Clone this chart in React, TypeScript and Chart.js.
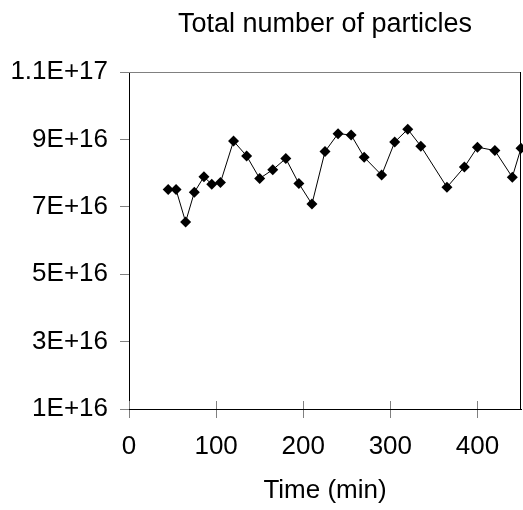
import React, { useEffect, useRef } from "react";
import { Chart, registerables } from "chart.js";

Chart.register(...registerables);

const titleText = "Total number of particles";
const xTitle = "Time (min)";
const timesMin = [45, 54, 65, 75, 86, 95, 105, 120, 135, 150, 165, 180, 195, 210, 225, 240, 255, 270, 290, 305, 320, 335, 365, 385, 400, 420, 440, 450];
const particles = [7.51e16, 7.51e16, 6.55e16, 7.43e16, 7.89e16, 7.67e16, 7.72e16, 8.95e16, 8.51e16, 7.84e16, 8.10e16, 8.43e16, 7.69e16, 7.08e16, 8.64e16, 9.17e16, 9.13e16, 8.47e16, 7.94e16, 8.92e16, 9.30e16, 8.80e16, 7.58e16, 8.18e16, 8.77e16, 8.67e16, 7.88e16, 8.74e16];
const xTicks = [0, 100, 200, 300, 400];
const yTicks = [1e16, 3e16, 5e16, 7e16, 9e16, 1.1e17];

const FONT = "'Liberation Sans', Arial, sans-serif";

function fmtExp(v: number): string {
  const s = Number(v.toPrecision(3)).toExponential();
  return s.toUpperCase();
}

const framePlugin = {
  id: "frame",
  afterDraw(chart: any) {
    const { ctx, chartArea } = chart;
    const { top, bottom, left, right } = chartArea;
    const xs = chart.scales.x;
    ctx.save();
    ctx.lineWidth = 1;
    ctx.strokeStyle = "#808080";
    ctx.beginPath();
    ctx.moveTo(left, Math.round(top) + 0.5);
    ctx.lineTo(right, Math.round(top) + 0.5);
    ctx.stroke();
    for (const t of xTicks) {
      const px = Math.round(xs.getPixelForValue(t)) + 0.5;
      ctx.beginPath();
      ctx.moveTo(px, bottom - 8);
      ctx.lineTo(px, bottom);
      ctx.stroke();
    }
    ctx.strokeStyle = "#000000";
    ctx.beginPath();
    ctx.moveTo(Math.round(right) - 0.5, top);
    ctx.lineTo(Math.round(right) - 0.5, bottom);
    ctx.stroke();
    ctx.restore();
  },
};

export default function App() {
  const ref = useRef<HTMLCanvasElement | null>(null);
  useEffect(() => {
    if (!ref.current) return;
    const chart = new Chart(ref.current, {
      type: "scatter",
      data: {
        datasets: [
          {
            data: timesMin.map((t, i) => ({ x: t, y: particles[i] })),
            showLine: true,
            borderColor: "#000000",
            borderWidth: 1,
            backgroundColor: "#000000",
            pointStyle: "rectRot",
            pointRadius: 5.5,
            pointBorderWidth: 0,
            pointBackgroundColor: "#000000",
            clip: false,
          } as any,
        ],
      },
      options: {
        animation: false,
        responsive: false,
        layout: { autoPadding: false, padding: { left: 0, right: 2, top: 0, bottom: 0 } },
        plugins: {
          legend: { display: false },
          tooltip: { enabled: false },
          title: {
            display: true,
            text: titleText,
            color: "#000000",
            fullSize: false,
            font: { family: FONT, size: 27, weight: "normal" },
            padding: { top: 8, bottom: 31.6 },
          },
        },
        scales: {
          x: {
            type: "linear",
            min: 0,
            max: 450,
            afterBuildTicks: (s: any) => {
              s.ticks = xTicks.map((v) => ({ value: v }));
            },
            afterFit: (s: any) => {
              s.height = 101;
              s.paddingLeft = 0;
              s.paddingRight = 0;
            },
            ticks: {
              color: "#000000",
              font: { family: FONT, size: 26 },
              padding: 13,
              maxRotation: 0,
              autoSkip: false,
            },
            grid: { drawOnChartArea: false, tickLength: 9, color: "#808080" },
            border: { color: "#000000", width: 1 },
            title: {
              display: true,
              text: xTitle,
              color: "#000000",
              font: { family: FONT, size: 26 },
              padding: { top: 0, bottom: 4 },
            },
          },
          y: {
            type: "linear",
            min: 1e16,
            max: 1.1e17,
            afterBuildTicks: (s: any) => {
              s.ticks = yTicks.map((v) => ({ value: v }));
            },
            afterFit: (s: any) => {
              s.width = 129;
              s.paddingTop = 0;
              s.paddingBottom = 0;
            },
            ticks: {
              color: "#000000",
              font: { family: FONT, size: 26 },
              padding: 12,
              autoSkip: false,
              callback: (v: any) => fmtExp(Number(v)),
            },
            grid: { drawOnChartArea: false, tickLength: 9, color: "#808080" },
            border: { color: "#000000", width: 1 },
          },
        },
      },
      plugins: [framePlugin],
    });
    return () => chart.destroy();
  }, []);
  return (
    <div style={{ position: "absolute", left: 0, top: 0, width: 523, height: 510, background: "#fff" }}>
      <canvas ref={ref} width={523} height={510} style={{ display: "block" }} />
    </div>
  );
}
